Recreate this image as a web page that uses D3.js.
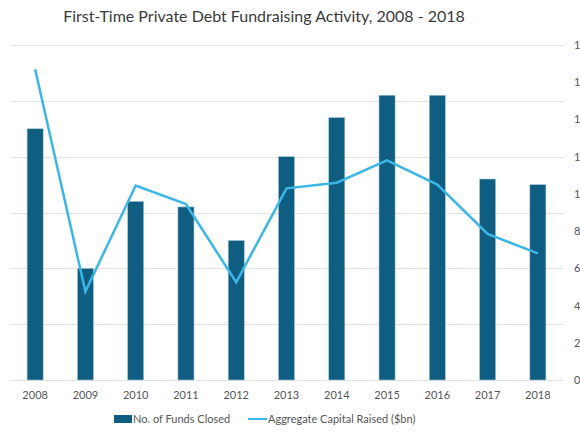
<!DOCTYPE html>
<html>
<head>
<meta charset="utf-8">
<script src="https://cdn.jsdelivr.net/npm/d3@7/dist/d3.min.js"></script>
<style>
  html, body { margin: 0; padding: 0; background: #fff; }
  svg { display: block; font-family: Lato, "Open Sans", sans-serif; }
</style>
</head>
<body>
<svg id="chart" width="580" height="435"></svg>
<script>
const years = ["2008","2009","2010","2011","2012","2013","2014","2015","2016","2017","2018"];
const fundsClosed = [45, 20, 32, 31, 25, 40, 47, 51, 51, 36, 35];
const capitalRaised = [16.7, 4.75, 10.45, 9.45, 5.25, 10.3, 10.6, 11.8, 10.5, 7.85, 6.8];
const leftTicks = [0, 10, 20, 30, 40, 50, 60];
const rightTicks = [0, 2, 4, 6, 8, 10, 12, 14, 16, 18];
const titleText = "First-Time Private Debt Fundraising Activity, 2008 - 2018";
const legendLabels = ["No. of Funds Closed", "Aggregate Capital Raised ($bn)"];

const svg = d3.select("#chart");
const plotLeft = 10, plotRight = 563, plotTop = 45, plotBottom = 380;

const x = d3.scaleBand().domain(years).range([plotLeft, plotRight]).paddingInner(0.68).paddingOuter(0.34);
const yL = d3.scaleLinear().domain([0, 60]).range([plotBottom, plotTop]);
const yR = d3.scaleLinear().domain([0, 18]).range([plotBottom, plotTop]);

// title
svg.append("text")
  .attr("x", 264).attr("y", 22)
  .attr("text-anchor", "middle")
  .attr("font-size", 16)
  .attr("fill", "#3a3a3a")
  .text(titleText);

// gridlines (left axis)
svg.append("g").selectAll("line").data(leftTicks).join("line")
  .attr("x1", plotLeft).attr("x2", plotRight)
  .attr("y1", d => Math.round(yL(d)) + 0.5).attr("y2", d => Math.round(yL(d)) + 0.5)
  .attr("stroke", "#e2e2e2").attr("stroke-width", 1);

// bars
svg.append("g").selectAll("rect").data(fundsClosed).join("rect")
  .attr("x", (d, i) => x(years[i]))
  .attr("width", x.bandwidth())
  .attr("y", d => yL(d))
  .attr("height", d => plotBottom - yL(d))
  .attr("fill", "#0f5e82")
  .attr("stroke", "#a9c7d6")
  .attr("stroke-width", 0.6);

// line
const line = d3.line()
  .x((d, i) => x(years[i]) + x.bandwidth() / 2)
  .y(d => yR(d));
svg.append("path")
  .datum(capitalRaised)
  .attr("d", line)
  .attr("fill", "none")
  .attr("stroke", "#3cb6e5")
  .attr("stroke-width", 2.5);

// x axis labels
const xAxis = d3.axisBottom(x).tickSize(0).tickPadding(11);
const gx = svg.append("g").attr("transform", `translate(0,${plotBottom})`).call(xAxis);
gx.select(".domain").remove();
gx.selectAll("text").attr("font-size", 11).attr("fill", "#555").attr("font-family", "Lato, sans-serif");

// right axis labels (clipped at the edge, as in the reference)
const yAxisR = d3.axisRight(yR).tickValues(rightTicks).tickSize(0).tickPadding(11).tickFormat(d3.format("d"));
const gy = svg.append("g").attr("transform", `translate(${plotRight},0)`).call(yAxisR);
gy.select(".domain").remove();
gy.selectAll("text").attr("font-size", 11).attr("fill", "#555").attr("font-family", "Lato, sans-serif");

// left axis labels (off-canvas, as in the reference)
const yAxisL = d3.axisLeft(yL).tickValues(leftTicks).tickSize(0).tickPadding(14);
const gyl = svg.append("g").attr("transform", `translate(${plotLeft},0)`).call(yAxisL);
gyl.select(".domain").remove();
gyl.selectAll("text").attr("font-size", 11).attr("fill", "#555");

// legend
const lg = svg.append("g");
lg.append("rect").attr("x", 114).attr("y", 415).attr("width", 18).attr("height", 8).attr("fill", "#0f5e82");
lg.append("text").attr("x", 133).attr("y", 423).attr("font-size", 11).attr("fill", "#555").text(legendLabels[0]);
lg.append("line").attr("x1", 248).attr("x2", 267).attr("y1", 419).attr("y2", 419).attr("stroke", "#3cb6e5").attr("stroke-width", 2);
lg.append("text").attr("x", 268).attr("y", 423).attr("font-size", 11).attr("fill", "#555").text(legendLabels[1]);
</script>
</body>
</html>
